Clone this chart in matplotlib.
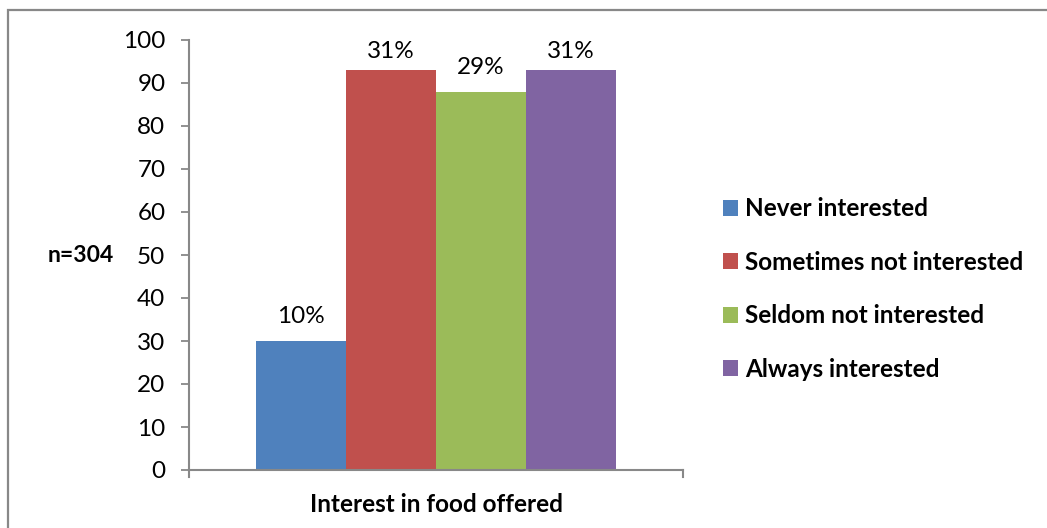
import matplotlib
matplotlib.use("Agg")
import matplotlib.pyplot as plt
from matplotlib.patches import Rectangle

categories = ["Never interested", "Sometimes not interested",
              "Seldom not interested", "Always interested"]
counts = [30, 93, 88, 93]
pct_labels = ["10%", "31%", "29%", "31%"]
colors = ["#4F81BD", "#C0504D", "#9BBB59", "#8064A2"]
yticks = [0, 10, 20, 30, 40, 50, 60, 70, 80, 90, 100]

plt.rcParams['font.family'] = ['Lato', 'DejaVu Sans']
FS = 17.5

W, H = 1047, 528
fig = plt.figure(figsize=(W / 100, H / 100), dpi=100)
fig.patch.set_facecolor("white")

# Outer chart frame (left and top edges visible)
fig.add_artist(Rectangle((7.5 / W, -0.1), 1.2, (H - 9.5) / H + 0.1,
                         transform=fig.transFigure, fill=False,
                         edgecolor="#888888", linewidth=1.6))

ax = fig.add_axes([189 / W, (H - 470) / H, (683 - 189) / W, (470 - 40) / H])
bw = 0.182
n = len(counts)
offsets = [(i - (n - 1) / 2) * bw for i in range(n)]
bars = []
for i, (c, col, lab) in enumerate(zip(counts, colors, categories)):
    b = ax.bar(offsets[i], c, width=bw, color=col, label=lab, linewidth=0)
    bars.append(b)
    # value label above the bar, kept inside the plot area
    ly = min(c + 5.6, 97.4)
    ax.text(offsets[i], ly, pct_labels[i], ha="center", va="center",
            fontsize=FS, color="#000000")

ax.set_xlim(-0.5, 0.5)
ax.set_ylim(0, 100)
ax.set_yticks(yticks)
ax.set_yticklabels([str(t) for t in yticks], fontsize=FS)
ax.set_xticks([-0.5, 0.5])
ax.set_xticklabels(["", ""])
ax.tick_params(axis="y", length=6, width=1.3, color="#888888", pad=11)
ax.tick_params(axis="x", direction="in", length=0)
for s in ["top", "right"]:
    ax.spines[s].set_visible(False)
for s in ["left", "bottom"]:
    ax.spines[s].set_color("#888888")
    ax.spines[s].set_linewidth(1.5)
# small tick marks below the category axis at its ends
ax.plot([-0.5, -0.5], [0, -1.7], color="#888888", lw=1.5, clip_on=False)
ax.plot([0.5, 0.5], [0, -1.7], color="#888888", lw=1.5, clip_on=False)

ax.set_xlabel("Interest in food offered", fontsize=FS, fontweight="bold",
              labelpad=13)
fig.text(81 / W, 1 - 256 / H, "n=304", fontsize=16.5, fontweight="bold",
         ha="center", va="center")

leg = fig.legend(handles=[b[0] for b in bars], labels=categories,
                 loc="center left", bbox_to_anchor=(723 / W, 1 - 289 / H),
                 frameon=False, handlelength=0.62, handleheight=0.62,
                 handletextpad=0.3, labelspacing=1.25, borderpad=0,
                 borderaxespad=0, prop={"weight": "bold", "size": FS})

fig.savefig("out.png", dpi=100, facecolor="white")
